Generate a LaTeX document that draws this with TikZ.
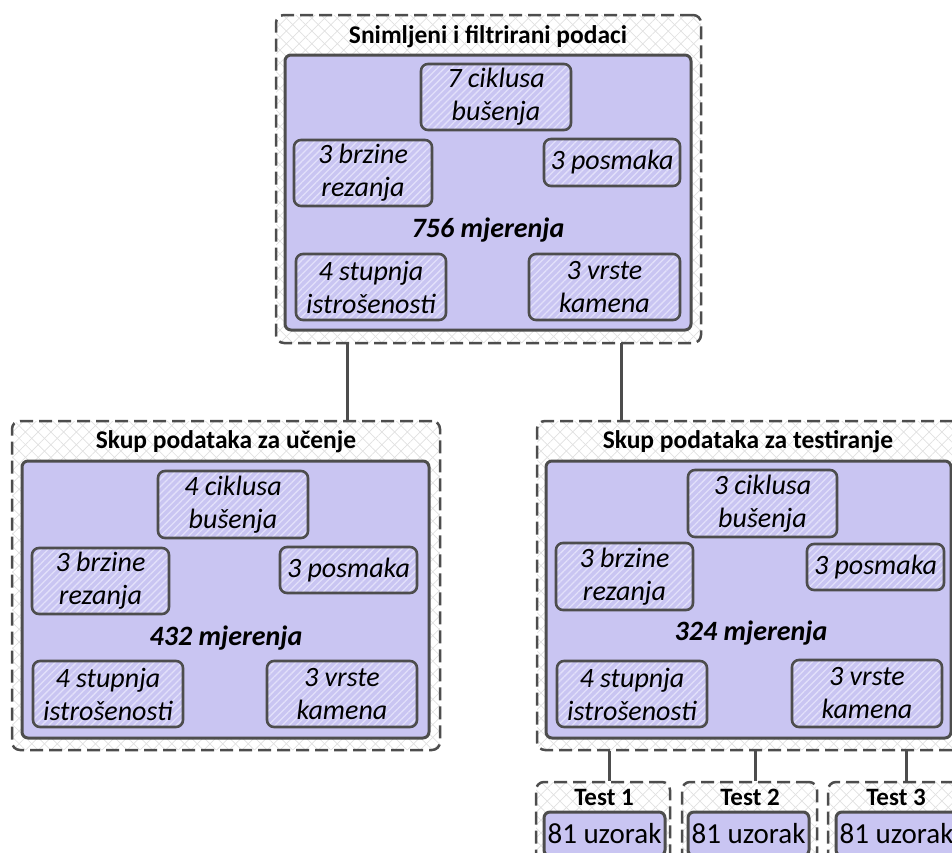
\documentclass[tikz,border=0pt]{standalone}
\usepackage{fontspec}
\setmainfont{Carlito}
\usetikzlibrary{patterns.meta}
\definecolor{lav}{RGB}{201,197,242}
\definecolor{edgec}{RGB}{77,77,77}
\definecolor{hatchc}{RGB}{226,224,250}
\newcommand{\itemfont}{\fontsize{28}{33}\selectfont\itshape}
\newcommand{\ttlfont}{\fontsize{25.5}{30}\selectfont\bfseries}
\newcommand{\cntfont}{\fontsize{28}{32}\selectfont\bfseries\itshape}
\tikzset{
 outerbox/.style={draw=edgec, line width=2.5pt, dash pattern=on 13pt off 6pt, rounded corners=8pt,
   preaction={pattern={Lines[angle=-45,distance=9pt,line width=0.7pt]}, pattern color=black!12},
   pattern={Lines[angle=45,distance=9pt,line width=0.7pt]}, pattern color=black!12},
 innerbox/.style={draw=edgec, line width=3pt, fill=lav, rounded corners=6pt},
 itembox/.style={draw=edgec, line width=2.6pt, rounded corners=7pt,
   preaction={fill=lav},
   pattern={Lines[angle=45,distance=5pt,line width=1.3pt]}, pattern color=hatchc,
   align=center, font=\itemfont, inner sep=0pt},
 ttl/.style={font=\ttlfont, inner sep=0pt},
 cnt/.style={font=\cntfont, inner sep=0pt},
 link/.style={draw=edgec, line width=3pt},
 testttl/.style={font=\fontsize{25}{28}\selectfont\bfseries, inner sep=0pt},
 sampbox/.style={draw=edgec, line width=3pt, fill=lav, rounded corners=6pt, inner sep=0pt,
   font=\fontsize{29}{32}\selectfont},
}
\begin{document}
\begin{tikzpicture}[x=1pt,y=-1pt]
\useasboundingbox (0,0) rectangle (952,852);
\clip (0,0) rectangle (952,852);
% ---------- top ----------
\node[outerbox, minimum width=425pt, minimum height=328pt] (top) at (488.5,179) {};
\node[ttl] (toptitle) at (488,37) {Snimljeni i filtrirani podaci};
\node[innerbox, minimum width=406pt, minimum height=275pt] (topin) at (488,192.5) {};
\node[itembox, minimum width=150pt, minimum height=66pt] (tc) at (496,97) {7 ciklusa\\bušenja};
\node[itembox, minimum width=138pt, minimum height=66pt] (tb) at (363,173) {3 brzine\\rezanja};
\node[itembox, minimum width=136pt, minimum height=47pt] (tp) at (612,162.5) {3 posmaka};
\node[cnt] (tm) at (488,230) {756 mjerenja};
\node[itembox, minimum width=150pt, minimum height=66pt] (ts) at (371,287) {4 stupnja\\istrošenosti};
\node[itembox, minimum width=151pt, minimum height=66pt] (tv) at (604.5,287) {3 vrste\\kamena};
% ---------- left ----------
\node[outerbox, minimum width=428pt, minimum height=329pt] (lo) at (226,585.5) {};
\node[ttl] (lotitle) at (226,442) {Skup podataka za učenje};
\node[innerbox, minimum width=407pt, minimum height=277pt] (loin) at (225.5,599.5) {};
\node[itembox, minimum width=150pt, minimum height=67pt] (lc) at (233,504.5) {4 ciklusa\\bušenja};
\node[itembox, minimum width=137pt, minimum height=66pt] (lb) at (100.5,581) {3 brzine\\rezanja};
\node[itembox, minimum width=137pt, minimum height=46pt] (lp) at (348.5,570) {3 posmaka};
\node[cnt] (lm) at (226,638) {432 mjerenja};
\node[itembox, minimum width=150pt, minimum height=66pt] (ls) at (108,694) {4 stupnja\\istrošenosti};
\node[itembox, minimum width=150pt, minimum height=66pt] (lv) at (342,694) {3 vrste\\kamena};
% ---------- right ----------
\node[outerbox, minimum width=424pt, minimum height=329pt] (ro) at (749,585.5) {};
\node[ttl] (rotitle) at (748,442) {Skup podataka za testiranje};
\node[innerbox, minimum width=405pt, minimum height=277pt] (roin) at (748.5,599.5) {};
\node[itembox, minimum width=149pt, minimum height=67pt] (rc) at (762.5,503.5) {3 ciklusa\\bušenja};
\node[itembox, minimum width=137pt, minimum height=67pt] (rb) at (624.5,576.5) {3 brzine\\rezanja};
\node[itembox, minimum width=137pt, minimum height=46pt] (rp) at (875.5,567) {3 posmaka};
\node[cnt] (rm) at (751,633) {324 mjerenja};
\node[itembox, minimum width=150pt, minimum height=66pt] (rs) at (632,694) {4 stupnja\\istrošenosti};
\node[itembox, minimum width=150pt, minimum height=67pt] (rv) at (867,693.5) {3 vrste\\kamena};
% ---------- tests ----------
\node[outerbox, minimum width=134pt, minimum height=84pt] (t1) at (603,824) {};
\node[testttl] (t1t) at (604,797) {Test 1};
\node[sampbox, minimum width=121pt, minimum height=44pt] (s1) at (604.5,834) {81 uzorak};
\node[outerbox, minimum width=135pt, minimum height=84pt] (t2) at (749.5,824) {};
\node[testttl] (t2t) at (750,797) {Test 2};
\node[sampbox, minimum width=121pt, minimum height=44pt] (s2) at (748.5,834) {81 uzorak};
\node[outerbox, minimum width=134pt, minimum height=84pt] (t3) at (895,824) {};
\node[testttl] (t3t) at (896,797) {Test 3};
\node[sampbox, minimum width=121pt, minimum height=44pt] (s3) at (896.5,834) {81 uzorak};
% ---------- connectors ----------
\draw[link] ([xshift=121pt]lo.north) -- ([xshift=121pt]lo.north |- top.south);
\draw[link] ([xshift=-128pt]ro.north) -- ([xshift=-128pt]ro.north |- top.south);
\draw[link] ([xshift=6pt]t1.north) -- ([xshift=6pt]t1.north |- ro.south);
\draw[link] ([xshift=5.5pt]t2.north) -- ([xshift=5.5pt]t2.north |- ro.south);
\draw[link] ([xshift=11pt]t3.north) -- ([xshift=11pt]t3.north |- ro.south);
\end{tikzpicture}
\end{document}
